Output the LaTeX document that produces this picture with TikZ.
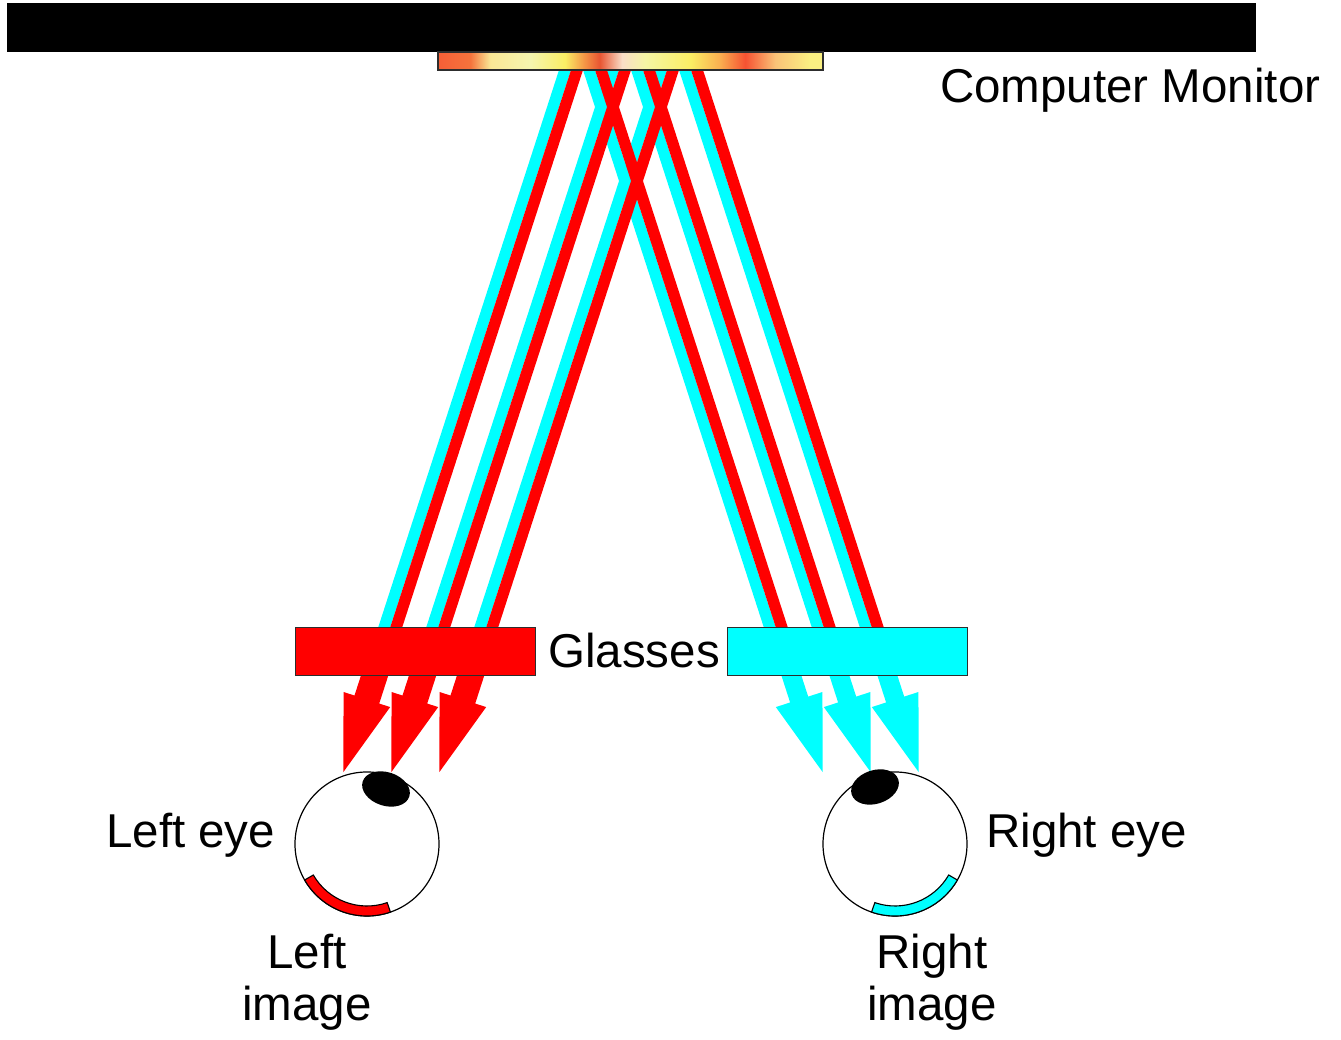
\documentclass[tikz,border=0pt]{standalone}
\usepackage{fontspec}
\setmainfont{Liberation Sans}
\definecolor{beamred}{RGB}{255,0,0}
\definecolor{beamcyan}{RGB}{0,255,255}
\definecolor{edge}{RGB}{45,45,45}
% colour stops of the glowing screen strip
\definecolor{s1}{RGB}{245,95,55}
\definecolor{s2}{RGB}{245,115,60}
\definecolor{s3}{RGB}{250,232,150}
\definecolor{s4}{RGB}{245,245,175}
\definecolor{s5}{RGB}{250,238,100}
\definecolor{s6}{RGB}{245,150,70}
\definecolor{s7}{RGB}{232,85,50}
\definecolor{s8}{RGB}{250,222,200}
\definecolor{s9}{RGB}{245,245,165}
\definecolor{s10}{RGB}{250,238,100}
\definecolor{s11}{RGB}{250,175,80}
\definecolor{s12}{RGB}{245,82,50}
\definecolor{s13}{RGB}{250,195,120}
\definecolor{s14}{RGB}{250,240,130}
\pgfdeclarehorizontalshading{screenglow}{100bp}{%
  color(0bp)=(s1); color(25bp)=(s1); color(29.2bp)=(s2); color(31.8bp)=(s3);
  color(37bp)=(s4); color(41.5bp)=(s5); color(44bp)=(s6); color(46bp)=(s7);
  color(48.9bp)=(s8); color(51.9bp)=(s9); color(57.8bp)=(s10); color(61.6bp)=(s11);
  color(64.9bp)=(s12); color(68.8bp)=(s13); color(73.3bp)=(s14); color(75bp)=(s14);
  color(100bp)=(s14)}
\tikzset{
  beamc/.style={draw=beamcyan, line width=11.4},
  beamr/.style={draw=beamred, line width=11.4},
  lens/.style={draw=edge, line width=1.3},
  lbl/.style={inner sep=0pt, font=\fontsize{47.5}{52}\selectfont},
  eyeball/.style={fill=white, draw=black, line width=1.2},
  pupil/.style={fill=black},
  retina/.style={draw=black, line width=1.1},
}
\begin{document}
\begin{tikzpicture}[x=1pt, y=1pt]
\useasboundingbox (0,0) rectangle (1341,1040);
\fill[white] (0,0) rectangle (1341,1040);

% light beams leaving the screen: three cyan/red pairs to each eye
\foreach \k in {0,1,2} {
  \coordinate (lct\k) at ({568.9+48*\k}, 982);
  \coordinate (lcb\k) at ({380.1+48*\k}, 400);
  \coordinate (rct\k) at ({585.1+48*\k}, 982);
  \coordinate (rcb\k) at ({773.9+48*\k}, 400);
  \draw[beamc] (lct\k) -- (lcb\k);
  \draw[beamc] (rct\k) -- (rcb\k);
}
\foreach \k in {0,1,2} {
  \coordinate (lrt\k) at ({580.9+48*\k}, 982);
  \coordinate (lrb\k) at ({392.1+48*\k}, 400);
  \coordinate (rrt\k) at ({597.1+48*\k}, 982);
  \coordinate (rrb\k) at ({785.9+48*\k}, 400);
  \draw[beamr] (lrt\k) -- (lrb\k);
  \draw[beamr] (rrt\k) -- (rrb\k);
}

% monitor housing and glowing screen
\fill[black] (7,988) rectangle (1256,1037);
\shadedraw[shading=screenglow, draw=edge, line width=1.2] (438,970) rectangle (823,988);

% filtered arrows behind the glasses
\foreach \k in {0,1,2} {
  \begin{scope}[shift={({390+48*\k},412)}, rotate=252.07]
    \fill[beamred] (33,-13) -- (75.2,-13) -- (75.2,-24.5) -- (151.4,0)
      -- (75.2,24.5) -- (75.2,13) -- (33,13) -- cycle;
  \end{scope}
  \begin{scope}[shift={({776+48*\k},412)}, rotate=287.93]
    \fill[beamcyan] (33,-9.5) -- (75.2,-9.5) -- (75.2,-24.5) -- (151.4,0)
      -- (75.2,24.5) -- (75.2,9.5) -- (33,9.5) -- cycle;
  \end{scope}
}

% glasses
\node[lens, fill=beamred, minimum width=240pt, minimum height=48pt, inner sep=0pt,
      anchor=south west] (redlens) at (295,364) {};
\node[lens, fill=beamcyan, minimum width=240pt, minimum height=48pt, inner sep=0pt,
      anchor=south west] (cyanlens) at (727,364) {};

% eyes
\coordinate (leye) at (367,196);
\coordinate (reye) at (895,196);
\draw[eyeball] (leye) circle[radius=72];
\draw[eyeball] (reye) circle[radius=72];
\filldraw[retina, fill=beamred] ([shift={(210:72)}]leye) arc[start angle=210, end angle=289, radius=72]
  -- ([shift={(289:62)}]leye) arc[start angle=289, end angle=210, radius=62] -- cycle;
\filldraw[retina, fill=beamcyan] ([shift={(251:72)}]reye) arc[start angle=251, end angle=330, radius=72]
  -- ([shift={(330:62)}]reye) arc[start angle=330, end angle=251, radius=62] -- cycle;
\fill[pupil] (386,251) ellipse[x radius=24.5, y radius=16.8, rotate=-18];
\fill[pupil] (875,253) ellipse[x radius=24.5, y radius=16.8, rotate=18];

% labels
\node[lbl, anchor=base west] (monitor) at (940,937) {Computer Monitor};
\node[lbl, anchor=base west] (glasses) at (548,372) {Glasses};
\node[lbl, anchor=base west] (lefteye) at (106,192) {Left eye};
\node[lbl, anchor=base west] (righteye) at (986,192) {Right eye};
\node[lbl, anchor=base, align=center] (leftimage) at (307,19) {Left\\image};
\node[lbl, anchor=base, align=center] (rightimage) at (932,19) {Right\\image};
\end{tikzpicture}
\end{document}
